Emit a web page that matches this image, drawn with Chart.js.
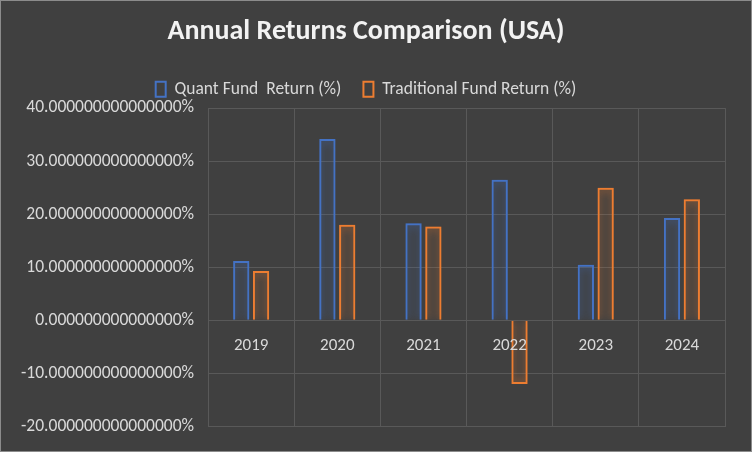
<!DOCTYPE html>
<html><head><meta charset="utf-8">
<script src="https://cdn.jsdelivr.net/npm/chart.js@4/dist/chart.umd.min.js"></script>
<style>
html,body{margin:0;padding:0;background:#404040;}
#wrap{width:750px;height:450px;border:1px solid #8c8c8c;position:relative;}
</style></head>
<body><div id="wrap"><canvas id="c"></canvas></div>
<script>
const YEARS = ['2019', '2020', '2021', '2022', '2023', '2024'];
const QUANT = [11.2, 34.2, 18.3, 26.5, 10.5, 19.3];
const TRAD = [9.3, 18.0, 17.7, -12.0, 25.0, 22.8];
const SERIES_NAMES = ['Quant Fund  Return (%)', 'Traditional Fund Return (%)'];
const FONT = "Calibri, 'Liberation Sans', 'Noto Sans', sans-serif";

// glow around bar outlines + category labels along the zero line
const excelLook = {
  id: 'excelLook',
  beforeDatasetDraw(chart, args) {
    const ctx = chart.ctx;
    ctx.save();
    ctx.shadowColor = chart.data.datasets[args.index].borderColor;
    ctx.shadowBlur = 9;
  },
  afterDatasetDraw(chart) { chart.ctx.restore(); },
  afterDraw(chart) {
    const ctx = chart.ctx, x = chart.scales.x, y = chart.scales.y;
    ctx.save();
    ctx.fillStyle = '#d9d9d9';
    ctx.font = '17px ' + FONT;
    ctx.textAlign = 'center';
    ctx.textBaseline = 'middle';
    YEARS.forEach(function (lab, i) {
      ctx.fillText(lab, x.getPixelForValue(i), y.getPixelForValue(0) + 25);
    });
    ctx.restore();
  }
};

new Chart(document.getElementById('c'), {
  type: 'bar',
  data: {
    labels: YEARS,
    datasets: [
      { label: SERIES_NAMES[0], data: QUANT, borderColor: '#4472C4', backgroundColor: 'rgba(0,0,0,0)', borderWidth: 2 },
      { label: SERIES_NAMES[1], data: TRAD, borderColor: '#ED7D31', backgroundColor: 'rgba(0,0,0,0)', borderWidth: 2 }
    ]
  },
  options: {
    responsive: true,
    maintainAspectRatio: false,
    animation: false,
    categoryPercentage: 0.46,
    barPercentage: 0.82,
    layout: { padding: { left: 6, right: 26, top: 8, bottom: 22 } },
    plugins: {
      title: { display: true, text: 'Annual Returns Comparison (USA)', color: '#f2f2f2',
        font: { size: 28, weight: 'bold', family: FONT }, padding: { top: 6, bottom: 10 } },
      legend: { labels: { color: '#d9d9d9', font: { size: 17.5, family: FONT }, boxWidth: 10, boxHeight: 15, padding: 22 } },
      tooltip: { enabled: false }
    },
    scales: {
      x: { grid: { color: '#595959', drawTicks: false }, border: { display: false }, ticks: { display: false } },
      y: {
        min: -20, max: 40,
        grid: { color: '#595959', drawTicks: false },
        border: { display: false },
        ticks: { stepSize: 10, color: '#d9d9d9', padding: 14, font: { size: 17.5, family: FONT },
          callback: function (v) { return v.toFixed(15) + '%'; } }
      }
    }
  },
  plugins: [excelLook]
});
</script></body></html>
